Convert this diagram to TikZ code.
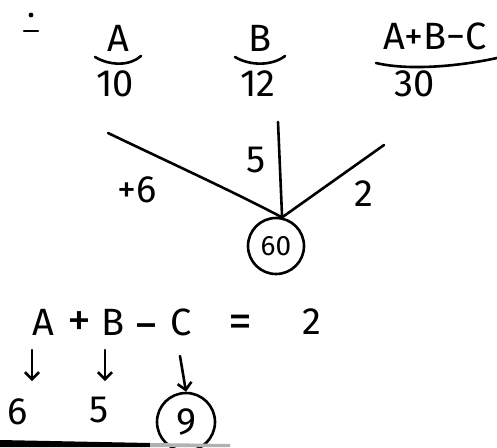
\documentclass[tikz,border=0pt]{standalone}
\usepackage{fontspec}
\setmainfont{Fira Sans}
\usetikzlibrary{arrows.meta}
\begin{document}
\begin{tikzpicture}[x=1pt,y=-1pt,
  ink/.style={line width=2.6pt, line cap=round, line join=round},
  txt/.style={font=\fontsize{38}{40}\selectfont, inner sep=0pt},
  big/.style={font=\fontsize{48}{50}\selectfont, inner sep=0pt},
  small/.style={font=\fontsize{28}{30}\selectfont, inner sep=0pt},
  ring/.style={circle, draw, line width=2.6pt, inner sep=0pt},
  down/.style={ink, -{Straight Barb[length=7pt,width=14pt,line width=2.6pt]}}]
\useasboundingbox (0,0) rectangle (497,447);
\fill[white] (0,0) rectangle (497,447);
% top-left mark
\fill (31,15) circle (2.4pt);
\draw[ink] (24,31) -- (38,31);
% top row
\node[txt] (tA) at (118,38) {A};
\draw[ink] (95,57) .. controls (110,66) and (130,66) .. (141,56);
\node[txt] (n10) at (115,84) {10};
\node[txt] (tB) at (260,38) {B};
\draw[ink] (235,57) .. controls (250,66) and (272,66) .. (285,56);
\node[txt] (n12) at (258,84) {12};
\node[txt] (tABC) at (435,36) {A+B−C};
\draw[ink] (376,63) .. controls (410,71) and (460,66) .. (497,58);
\node[txt] (n30) at (415,84) {30};
% star
\node[ring, minimum size=56pt, small] (c60) at (276,246) {60};
\coordinate (p1) at (108,133);
\coordinate (p2) at (278,122);
\coordinate (p3) at (384,145);
\draw[ink] (p1) .. controls (160,158) and (230,190) .. (c60.78);
\draw[ink] (p2) -- (c60.78);
\draw[ink] (p3) -- (c60.78);
\node[txt] (l5) at (256,160) {5};
\node[txt] (l6) at (137,190) {+6};
\node[txt] (l2) at (364,194) {2};
% equation
\node[txt] (eA) at (43,322) {A};
\node[big] (ePlus) at (79,324) {+};
\node[txt] (eB) at (113,322) {B};
\node[big] (eMinus) at (146,333) {−};
\node[txt] (eC) at (181,322) {C};
\node[big] (eEq) at (240,326) {=};
\node[txt] (eR) at (312,322) {2};
\node[txt] (v6) at (18,412) {6};
\node[txt] (v5) at (99,410) {5};
\node[ring, minimum size=58pt, txt] (c9) at (186,422) {9};
\coordinate (a1s) at (32,350);
\coordinate (a1e) at (32,381);
\coordinate (a2s) at (105,350);
\coordinate (a2e) at (105,381);
\draw[down] (a1s) -- (a1e);
\draw[down] (a2s) -- (a2e);
\coordinate (a3s) at (180,356);
\draw[down] (a3s) -- (c9.north);
% bottom bar
\fill (0,440) -- (150,443) -- (150,447) -- (0,447) -- cycle;
\fill[gray!60] (150,443) -- (230,444) -- (230,447) -- (150,447) -- cycle;
\end{tikzpicture}
\end{document}
